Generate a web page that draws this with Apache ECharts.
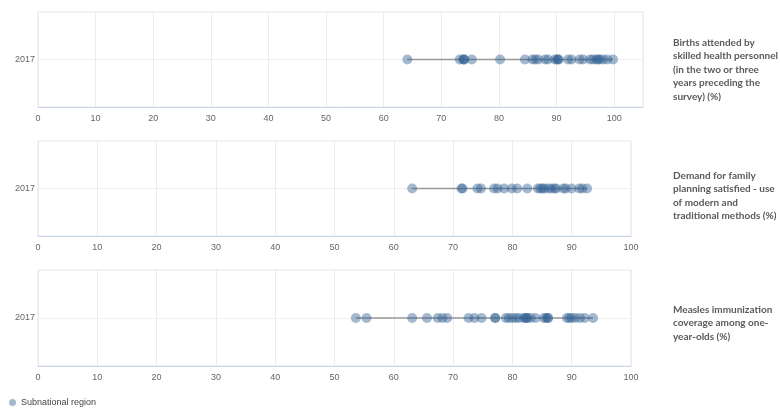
<!DOCTYPE html>
<html>
<head>
<meta charset="utf-8">
<script src="https://cdn.jsdelivr.net/npm/echarts@6/dist/echarts.min.js"></script>
<style>
  html, body { margin: 0; padding: 0; background: #fff; }
  #main { width: 780px; height: 412px; }
</style>
</head>
<body>
<div id="main"></div>
<script>
// values
const years = ['2017'];
const xTicks = [0, 10, 20, 30, 40, 50, 60, 70, 80, 90, 100];

const births = [64.1, 73.2, 73.8, 73.9, 74.0, 75.3, 80.2, 84.5, 85.8, 86.3, 86.8, 88.0, 88.5,
    89.7, 90.1, 90.2, 90.4, 92.0, 92.6, 94.0, 94.6, 95.8, 96.3, 96.9, 97.2, 97.5, 98.1, 98.8, 99.8];
const demand = [63.1, 71.4, 71.6, 74.1, 74.7, 76.9, 77.5, 78.6, 79.9, 80.8, 82.5, 84.3, 84.7,
    85.1, 85.4, 86.1, 86.6, 87.1, 87.4, 88.6, 89.0, 90.0, 91.3, 91.8, 92.6];
const measles = [53.6, 55.4, 63.1, 65.6, 67.4, 68.2, 69.0, 72.6, 73.6, 74.8, 77.1, 77.1, 78.9,
    79.4, 80.0, 80.6, 81.1, 81.9, 82.2, 82.4, 82.5, 83.1, 83.9, 85.3, 85.7, 86.0, 86.0, 89.2,
    89.6, 90.0, 90.6, 91.4, 92.2, 93.6];

const titles = [
    'Births attended by\nskilled health personnel\n(in the two or three\nyears preceding the\nsurvey) (%)',
    'Demand for family\nplanning satisfied - use\nof modern and\ntraditional methods (%)',
    'Measles immunization\ncoverage among one-\nyear-olds (%)'
];
const panels = [births, demand, measles];
const xMax = [105, 100, 100];

const chartDom = document.getElementById('main');
const myChart = echarts.init(chartDom);

const grids = [
    { left: 38, right: 137, top: 12, height: 95 },
    { left: 38, right: 149, top: 141, height: 95 },
    { left: 38, right: 149, top: 270, height: 96 }
];
const titleTops = [31, 164, 298];

let xAxes = [];
let yAxes = [];
let series = [];
let titleList = [];

panels.forEach((vals, i) => {
    grids[i].show = true;
    grids[i].borderColor = '#e3e7f0';
    grids[i].borderWidth = 1;

    xAxes.push({
        type: 'value',
        gridIndex: i,
        min: xTicks[0],
        max: xMax[i],
        interval: 10,
        axisLine: { show: true, lineStyle: { color: '#ccd6eb' } },
        axisTick: { show: false },
        axisLabel: { color: '#666', fontSize: 9, margin: 7, showMaxLabel: xMax[i] == 100 },
        splitLine: { show: true, lineStyle: { color: '#ececec' } }
    });
    yAxes.push({
        type: 'category',
        gridIndex: i,
        data: years,
        axisLine: { show: false },
        axisTick: { show: false },
        axisLabel: { color: '#666', fontSize: 9, margin: 3 },
        splitLine: { show: false }
    });

    // faint row line across the plot
    series.push({
        name: 'row',
        type: 'line',
        xAxisIndex: i,
        yAxisIndex: i,
        symbol: 'none',
        silent: true,
        data: [],
        markLine: {
            silent: true,
            symbol: 'none',
            z: 0,
            label: { show: false },
            lineStyle: { color: '#f0f0f0', type: 'solid', width: 1 },
            data: [{ yAxis: years[0] }]
        },
        z: 0
    });
    // gray range line min -> max
    series.push({
        name: 'range',
        type: 'line',
        xAxisIndex: i,
        yAxisIndex: i,
        symbol: 'none',
        silent: true,
        lineStyle: { color: '#999', width: 1.5 },
        data: [[Math.min(...vals), years[0]], [Math.max(...vals), years[0]]],
        z: 2
    });
    series.push({
        name: 'Subnational region',
        type: 'scatter',
        xAxisIndex: i,
        yAxisIndex: i,
        symbolSize: 10,
        itemStyle: { color: 'rgba(47, 95, 145, 0.55)' },
        data: vals.map(v => [v, years[0]]),
        z: 3
    });

    titleList.push({
        text: titles[i],
        left: 668,
        top: titleTops[i],
        textStyle: {
            fontFamily: 'Lato',
            fontSize: 10,
            fontWeight: 'bold',
            color: '#5a5a5a',
            lineHeight: 13.5
        }
    });
});

const option = {
    animation: false,
    title: titleList,
    legend: {
        data: ['Subnational region'],
        left: 4,
        top: 393,
        icon: 'circle',
        itemWidth: 7,
        itemHeight: 7,
        itemGap: 5,
        textStyle: { fontSize: 9, color: '#444' }
    },
    grid: grids,
    xAxis: xAxes,
    yAxis: yAxes,
    series: series
};

myChart.setOption(option);
</script>
</body>
</html>
